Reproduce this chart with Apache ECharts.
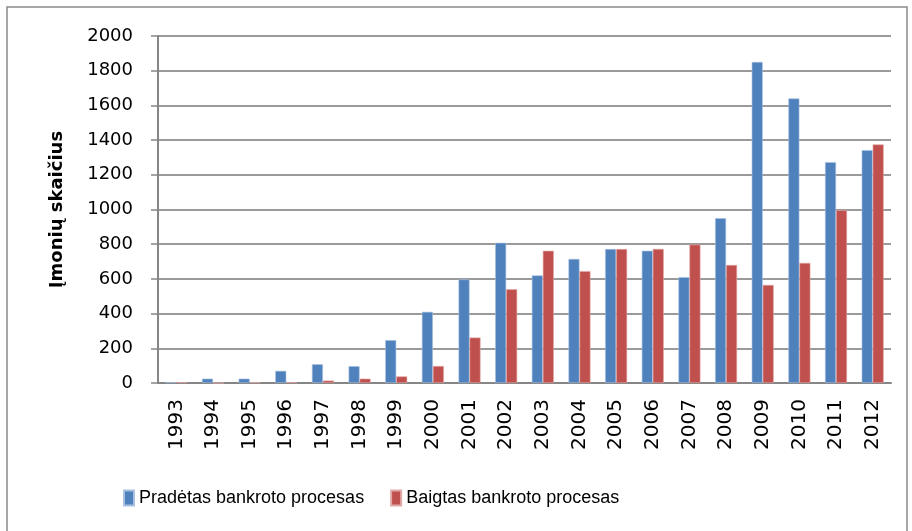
<!DOCTYPE html>
<html>
<head>
<meta charset="utf-8">
<script src="https://cdn.jsdelivr.net/npm/echarts@6/dist/echarts.min.js"></script>
<style>
  html, body { margin: 0; padding: 0; background: #fff; }
  #chart { width: 912px; height: 531px; }
</style>
</head>
<body>
<div id="chart"></div>
<script>
var years = ["1993", "1994", "1995", "1996", "1997", "1998", "1999", "2000", "2001", "2002",
  "2003", "2004", "2005", "2006", "2007", "2008", "2009", "2010", "2011", "2012"];
// Pradėtas bankroto procesas
var started = [5, 25, 25, 70, 108, 97, 247, 410, 597, 808, 620, 715, 772, 762, 610, 950, 1850, 1640, 1273, 1342];
// Baigtas bankroto procesas
var finished = [5, 0, 4, 4, 14, 25, 38, 98, 262, 540, 762, 645, 772, 773, 798, 680, 565, 692, 996, 1375];

var chart = echarts.init(document.getElementById("chart"));

var option = {
  animation: false,
  textStyle: { fontFamily: "DejaVu Sans" },
  graphic: [
    {
      type: "rect",
      shape: { x: 7, y: 7, width: 900, height: 540 },
      style: { fill: "none", stroke: "#8a8a8a", lineWidth: 1.5 },
      silent: true
    }
  ],
  legend: {
    left: 118,
    top: 484,
    itemWidth: 10,
    itemHeight: 15,
    itemGap: 26,
    icon: "rect",
    textStyle: {
      fontFamily: "'Liberation Sans', sans-serif",
      fontSize: 18,
      color: "#000"
    },
    data: ["Pradėtas bankroto procesas", "Baigtas bankroto procesas"]
  },
  grid: {
    left: 158,
    right: 21,
    top: 36,
    bottom: 148
  },
  xAxis: {
    type: "category",
    data: years,
    axisLine: { lineStyle: { color: "#868686", width: 2 } },
    axisTick: { show: false },
    axisLabel: {
      rotate: 90,
      margin: 16,
      fontSize: 20,
      color: "#000",
      fontFamily: "DejaVu Sans"
    }
  },
  yAxis: {
    type: "value",
    min: 0,
    max: 2000,
    interval: 200,
    name: "Įmonių skaičius",
    nameLocation: "middle",
    nameGap: 92,
    nameTextStyle: {
      fontSize: 18,
      fontWeight: "bold",
      color: "#000",
      fontFamily: "DejaVu Sans"
    },
    axisLine: { show: true, lineStyle: { color: "#868686", width: 2 } },
    axisTick: { show: true, length: 7, lineStyle: { color: "#868686", width: 1.5 } },
    axisLabel: {
      margin: 25,
      fontSize: 18,
      color: "#000",
      fontFamily: "DejaVu Sans",
      formatter: function (v) { return String(v); }
    },
    splitLine: { lineStyle: { color: "#9a9a9a", width: 2 } }
  },
  series: [
    {
      name: "Pradėtas bankroto procesas",
      type: "bar",
      data: started,
      barWidth: 11,
      barGap: "0%",
      itemStyle: { color: "#4F81BD", borderColor: "#a9c1e0", borderWidth: 0.6 }
    },
    {
      name: "Baigtas bankroto procesas",
      type: "bar",
      data: finished,
      barWidth: 11,
      barGap: "0%",
      itemStyle: { color: "#C0504D", borderColor: "#e0a9a7", borderWidth: 0.6 }
    }
  ]
};

chart.setOption(option);
</script>
</body>
</html>
